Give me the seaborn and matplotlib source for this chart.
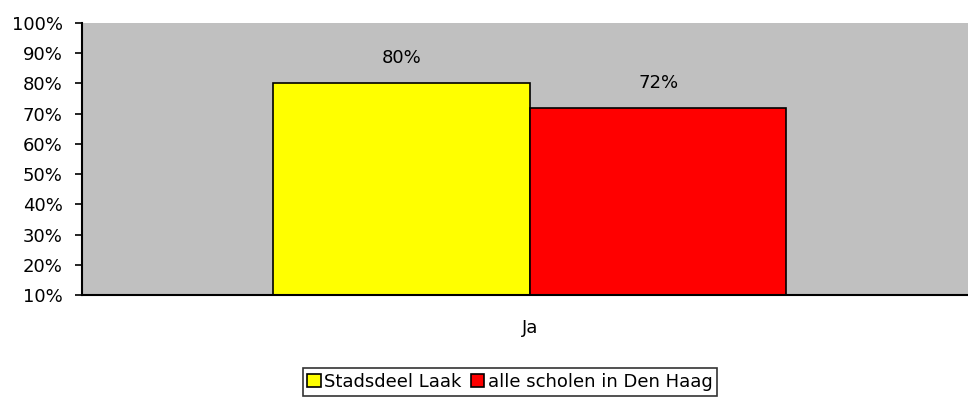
import pandas as pd
import matplotlib.pyplot as plt
import seaborn as sns
from matplotlib.ticker import FuncFormatter
from matplotlib.patches import Patch

categories = ['Ja']
series = ['Stadsdeel Laak', 'alle scholen in Den Haag']
values = [80, 72]
colors = ['#FFFF00', '#FF0000']

df = pd.DataFrame({'cat': categories * len(series), 'serie': series, 'val': values})

sns.set_style('white')
plt.rcParams['font.family'] = ['DejaVu Sans']
plt.rcParams['text.color'] = 'black'
plt.rcParams['xtick.color'] = 'black'
plt.rcParams['ytick.color'] = 'black'

fig = plt.figure(figsize=(9.68, 4.03), dpi=100)
ax = fig.add_axes([82 / 968, 1 - 295 / 403, 886 / 968, 272 / 403])
ax.set_facecolor('#C0C0C0')

sns.barplot(data=df, x='cat', y='val', hue='serie', palette=colors, width=0.579,
            edgecolor='black', linewidth=1.2, saturation=1, legend=False, ax=ax)

for p, v in zip(ax.patches, values):
    ax.text(p.get_x() + p.get_width() / 2, v + 8.3, f'{v}%', ha='center', va='center',
            fontsize=13, color='black')

ax.set_ylim(10, 100)
ax.set_xlim(-0.5056, 0.4944)
ax.set_yticks(range(10, 101, 10))
ax.yaxis.set_major_formatter(FuncFormatter(lambda y, _: f'{y:.0f}%'))
ax.tick_params(axis='y', length=5, width=1.2, color='black', labelsize=13, pad=9, left=True)
ax.tick_params(axis='x', length=0, labelsize=13, pad=17)
ax.set_xlabel('')
ax.set_ylabel('')
for s in ['top', 'right']:
    ax.spines[s].set_visible(False)
for s in ['left', 'bottom']:
    ax.spines[s].set_color('black')
    ax.spines[s].set_linewidth(1.5)

handles = [Patch(facecolor=c, edgecolor='black', linewidth=1.2) for c in colors]
leg = fig.legend(handles, series, loc='center', bbox_to_anchor=(510 / 968, 1 - 382 / 403), ncol=2,
                 frameon=True, fancybox=False, edgecolor='black', fontsize=13,
                 handlelength=0.75, handleheight=0.75, handletextpad=0.2, columnspacing=0.5,
                 borderpad=0.25, borderaxespad=0)
leg.get_frame().set_linewidth(1.2)

fig.savefig('out.png', dpi=100)
